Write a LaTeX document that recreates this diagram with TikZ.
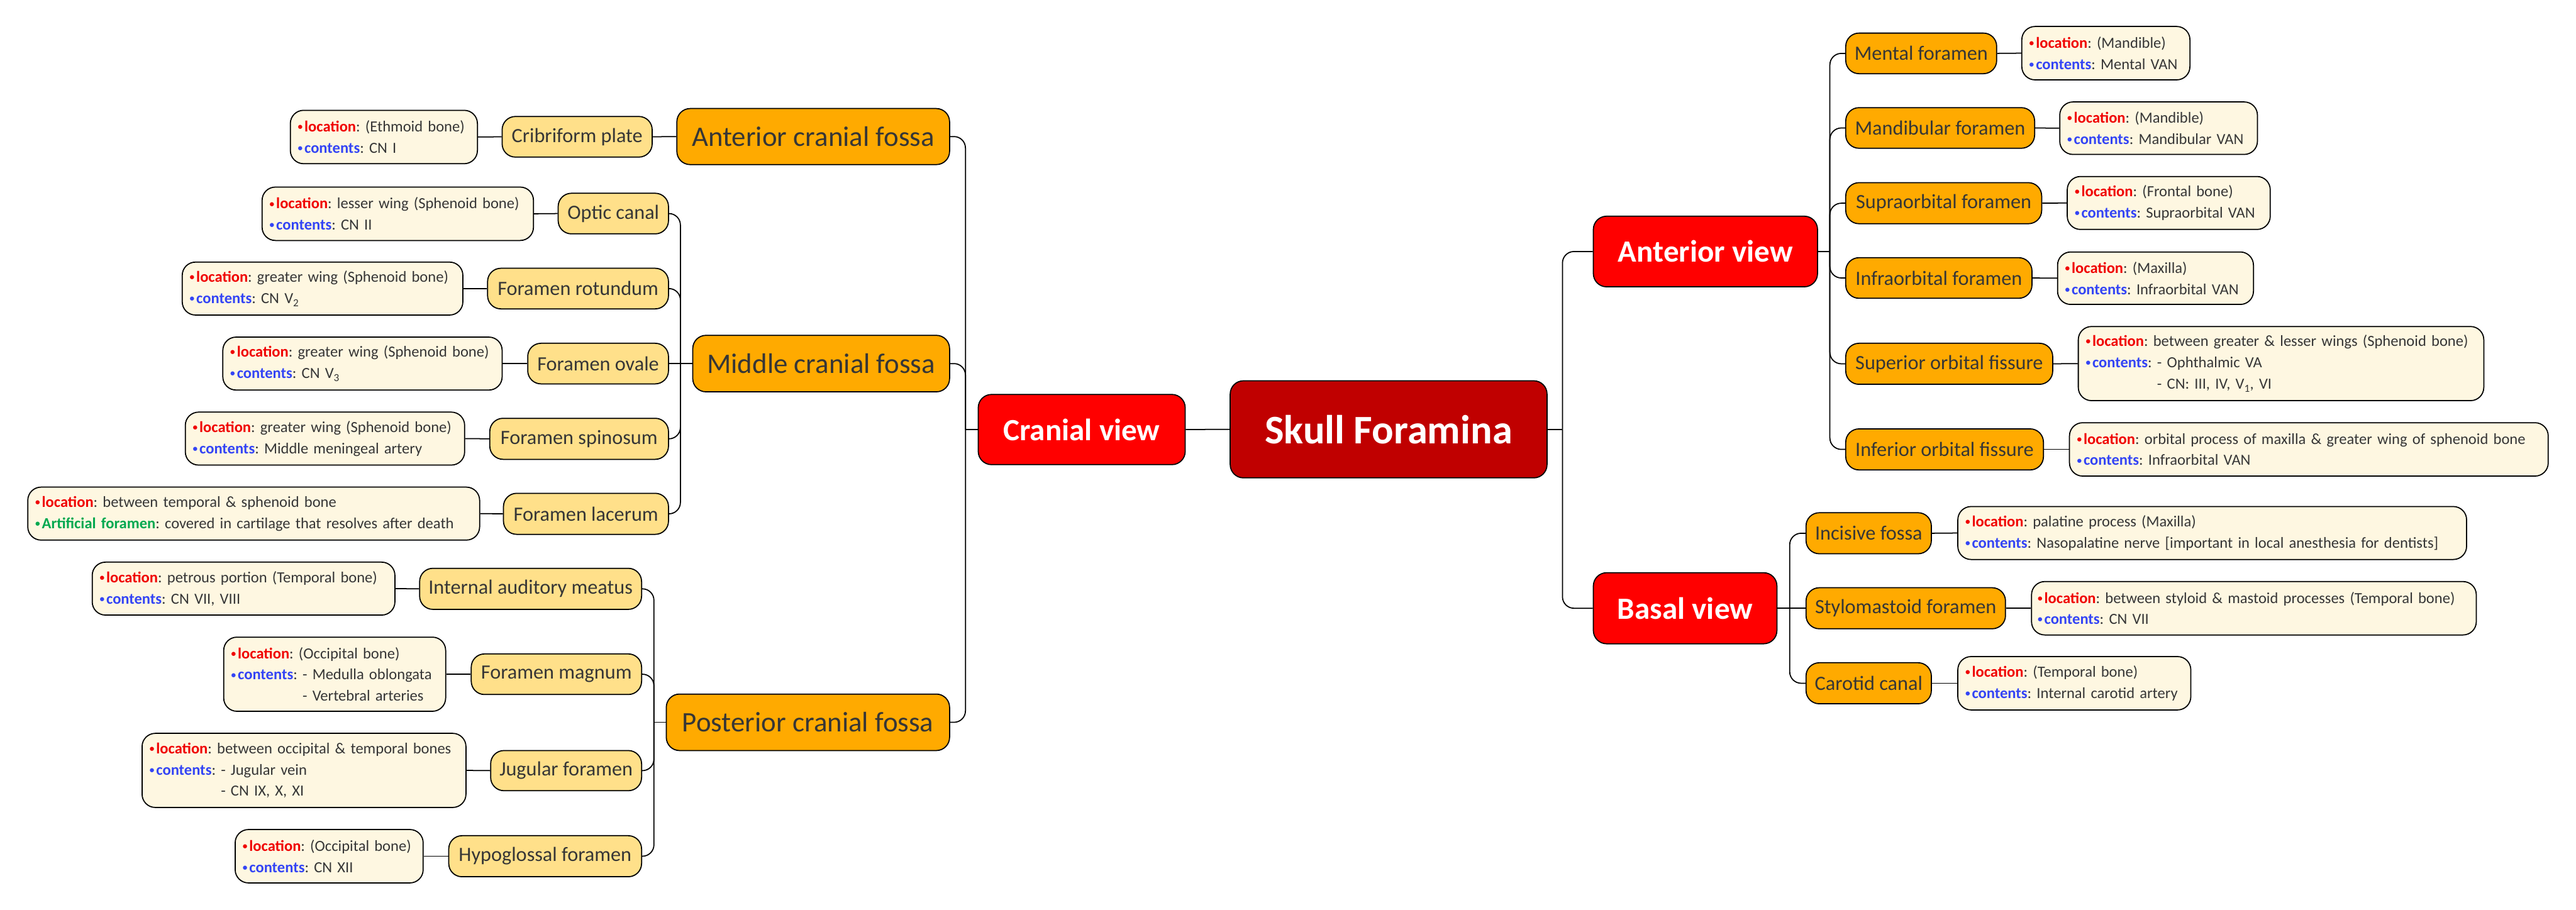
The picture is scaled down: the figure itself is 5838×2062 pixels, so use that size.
\documentclass[tikz,border=0pt]{standalone}
\usepackage{fontspec}
\setmainfont{Carlito}
\frenchspacing
\definecolor{rootred}{HTML}{C00000}
\definecolor{viewred}{HTML}{FF0000}
\definecolor{orng}{HTML}{FFAA00}
\definecolor{lightyel}{HTML}{FFE08A}
\definecolor{cream}{HTML}{FEF7E1}
\definecolor{txt}{HTML}{363636}
\definecolor{locred}{HTML}{F00000}
\definecolor{cntblue}{HTML}{3344F5}
\definecolor{artgreen}{HTML}{00A84F}
\newcommand\smbul{\raisebox{0.12em}{\scalebox{0.62}{•}}\hspace{0.12em}}
\newcommand\locl{{\color{locred}\textbf{\smbul location}}: }
\newcommand\cntl{{\color{cntblue}\textbf{\smbul contents}}: }
\newcommand\artl{{\color{artgreen}\textbf{\smbul Artificial foramen}}: }
\newcommand\cntind{\phantom{\textbf{\smbul contents}: }}
\tikzset{
  box/.style={draw=black, line width=2.5pt, rounded corners=30pt, inner sep=0pt, text=txt},
  rootbox/.style={box, fill=rootred, text=white, font=\fontsize{92}{110}\selectfont\bfseries},
  viewbox/.style={box, fill=viewred, text=white, font=\fontsize{70}{84}\selectfont\bfseries},
  fossabox/.style={box, fill=orng, font=\fontsize{64}{76}\selectfont},
  orbox/.style={box, fill=orng, font=\fontsize{46}{56}\selectfont},
  yelbox/.style={box, fill=lightyel, font=\fontsize{46}{56}\selectfont},
  infobox/.style={box, fill=cream, font=\fontsize{35}{48}\selectfont\frenchspacing, align=left},
  link/.style={draw=black, line width=2.5pt, rounded corners=26pt}
}
\begin{document}
\begin{tikzpicture}[x=1pt,y=-1pt]
\useasboundingbox[fill=white] (0,0) rectangle (5838,2062);
% centre
\node[rootbox, minimum width=718pt, minimum height=220pt] (root) at (3147,973) {Skull Foramina};
\node[viewbox, minimum width=469pt, minimum height=159pt] (cranial) at (2451.5,973.5) {Cranial view};
\node[viewbox, minimum width=508pt, minimum height=160pt] (antview) at (3865,570) {Anterior view};
\node[viewbox, minimum width=416pt, minimum height=161pt] (basal) at (3819,1378.5) {Basal view};
% fossae
\node[fossabox, minimum width=618pt, minimum height=127pt] (antfossa) at (1843,309.5) {Anterior cranial fossa};
\node[fossabox, minimum width=582pt, minimum height=128pt] (midfossa) at (1861,824) {Middle cranial fossa};
\node[fossabox, minimum width=642pt, minimum height=128pt] (postfossa) at (1831,1637) {Posterior cranial fossa};
% left leaves
\node[yelbox, minimum width=340pt, minimum height=92pt] (cribriform) at (1308,310) {Cribriform plate};
\node[infobox, minimum width=424pt, text width=390pt, minimum height=121pt] (cribinfo) at (870,310.5) {\locl (Ethmoid bone)\\\cntl CN I};
\node[yelbox, minimum width=250pt, minimum height=92pt] (optic) at (1390,484) {Optic canal};
\node[infobox, minimum width=615pt, text width=581pt, minimum height=121pt] (opticinfo) at (901.5,484.5) {\locl lesser wing (Sphenoid bone)\\\cntl CN II};
\node[yelbox, minimum width=410pt, minimum height=92pt] (rotundum) at (1310,654) {Foramen rotundum};
\node[infobox, minimum width=636pt, text width=602pt, minimum height=120pt] (rotinfo) at (731,654) {\locl greater wing (Sphenoid bone)\\\cntl CN V\textsubscript{2}};
\node[yelbox, minimum width=319pt, minimum height=92pt] (ovale) at (1355.5,824) {Foramen ovale};
\node[infobox, minimum width=633pt, text width=599pt, minimum height=120pt] (ovinfo) at (821.5,824) {\locl greater wing (Sphenoid bone)\\\cntl CN V\textsubscript{3}};
\node[yelbox, minimum width=405pt, minimum height=93pt] (spinosum) at (1312.5,994.5) {Foramen spinosum};
\node[infobox, minimum width=633pt, text width=599pt, minimum height=120pt] (spininfo) at (736.5,994) {\locl greater wing (Sphenoid bone)\\\cntl Middle meningeal artery};
\node[yelbox, minimum width=374pt, minimum height=93pt] (lacerum) at (1328,1164.5) {Foramen lacerum};
\node[infobox, minimum width=1024pt, text width=990pt, minimum height=120pt] (lacinfo) at (575,1164) {\locl between temporal \& sphenoid bone\\\artl covered in cartilage that resolves after death};
\node[yelbox, minimum width=503pt, minimum height=93pt] (iam) at (1202.5,1334.5) {Internal auditory meatus};
\node[infobox, minimum width=686pt, text width=652pt, minimum height=120pt] (iaminfo) at (552,1334) {\locl petrous portion (Temporal bone)\\\cntl CN VII, VIII};
\node[yelbox, minimum width=386pt, minimum height=92pt] (magnum) at (1261,1528) {Foramen magnum};
\node[infobox, minimum width=503pt, text width=469pt, minimum height=168pt] (maginfo) at (758.5,1528) {\locl (Occipital bone)\\\cntl - Medulla oblongata\\\cntind - Vertebral arteries};
\node[yelbox, minimum width=342pt, minimum height=91pt] (jugular) at (1283,1746.5) {Jugular foramen};
\node[infobox, minimum width=734pt, text width=700pt, minimum height=168pt] (juginfo) at (689,1746) {\locl between occipital \& temporal bones\\\cntl - Jugular vein\\\cntind - CN IX, X, XI};
\node[yelbox, minimum width=437pt, minimum height=93pt] (hypo) at (1235.5,1940.5) {Hypoglossal foramen};
\node[infobox, minimum width=426pt, text width=392pt, minimum height=121pt] (hypoinfo) at (746,1940.5) {\locl (Occipital bone)\\\cntl CN XII};
% right leaves
\node[orbox, minimum width=342pt, minimum height=92pt] (mental) at (4354,121) {Mental foramen};
\node[infobox, minimum width=381pt, text width=347pt, minimum height=121pt] (mentinfo) at (4772.5,120.5) {\locl (Mandible)\\\cntl Mental VAN};
\node[orbox, minimum width=428pt, minimum height=92pt] (mandib) at (4397,290) {Mandibular foramen};
\node[infobox, minimum width=448pt, text width=414pt, minimum height=119pt] (mandinfo) at (4892,290.5) {\locl (Mandible)\\\cntl Mandibular VAN};
\node[orbox, minimum width=444pt, minimum height=93pt] (supra) at (4405,460.5) {Supraorbital foramen};
\node[infobox, minimum width=460pt, text width=426pt, minimum height=120pt] (suprainfo) at (4915,460) {\locl (Frontal bone)\\\cntl Supraorbital VAN};
\node[orbox, minimum width=422pt, minimum height=92pt] (infra) at (4394,630) {Infraorbital foramen};
\node[infobox, minimum width=444pt, text width=410pt, minimum height=119pt] (infrainfo) at (4885,630.5) {\locl (Maxilla)\\\cntl Infraorbital VAN};
\node[orbox, minimum width=469pt, minimum height=93pt] (sof) at (4417.5,824.5) {Superior orbital fissure};
\node[infobox, minimum width=919pt, text width=885pt, minimum height=168pt] (sofinfo) at (5169.5,824) {\locl between greater \& lesser wings (Sphenoid bone)\\\cntl - Ophthalmic VA\\\cntind - CN: III, IV, V\textsubscript{1}, VI};
\node[orbox, minimum width=448pt, minimum height=93pt] (iof) at (4407,1018.5) {Inferior orbital fissure};
\node[infobox, minimum width=1085pt, text width=1051pt, minimum height=121pt] (iofinfo) at (5232.5,1018.5) {\locl orbital process of maxilla \& greater wing of sphenoid bone\\\cntl Infraorbital VAN};
\node[orbox, minimum width=284pt, minimum height=93pt] (incisive) at (4235,1208.5) {Incisive fossa};
\node[infobox, minimum width=1153pt, text width=1119pt, minimum height=120pt] (incinfo) at (5013.5,1208) {\locl palatine process (Maxilla)\\\cntl Nasopalatine nerve [important in local anesthesia for dentists]};
\node[orbox, minimum width=452pt, minimum height=93pt] (stylo) at (4319,1378.5) {Stylomastoid foramen};
\node[infobox, minimum width=1008pt, text width=980pt, minimum height=121pt] (styloinfo) at (5108,1378.5) {\locl between styloid \& mastoid processes (Temporal bone)\\\cntl CN VII};
\node[orbox, minimum width=284pt, minimum height=93pt] (carotid) at (4235,1548.5) {Carotid canal};
\node[infobox, minimum width=528pt, text width=494pt, minimum height=121pt] (carinfo) at (4701,1548.5) {\locl (Temporal bone)\\\cntl Internal carotid artery};
% junctions
\coordinate (jR) at (3541,973);
\coordinate (jC) at (2188,973.5);
\coordinate (jM) at (1542,824);
\coordinate (jP) at (1482,1637);
\coordinate (jA) at (4147,570);
\coordinate (jB) at (4056,1378.5);
% connectors
\draw[link] (root.west) -- (cranial.east);
\draw[link] (root.east) -- (jR);
\draw[link] (jR) |- (antview.west);
\draw[link] (jR) |- (basal.west);
\draw[link] (cranial.west) -- (jC);
\draw[link] (jC) |- (antfossa.east);
\draw[link] (jC) |- (midfossa.east);
\draw[link] (jC) |- (postfossa.east);
\draw[link] (antfossa.west) -- (cribriform.east);
\draw[link] (midfossa.west) -- (jM);
\draw[link] (jM) |- (optic.east);
\draw[link] (jM) |- (rotundum.east);
\draw[link] (jM) -- (ovale.east);
\draw[link] (jM) |- (spinosum.east);
\draw[link] (jM) |- (lacerum.east);
\draw[link] (postfossa.west) -- (jP);
\draw[link] (jP) |- (iam.east);
\draw[link] (jP) |- (magnum.east);
\draw[link] (jP) |- (jugular.east);
\draw[link] (jP) |- (hypo.east);
\draw[link] (antview.east) -- (jA);
\draw[link] (jA) |- (mental.west);
\draw[link] (jA) |- (mandib.west);
\draw[link] (jA) |- (supra.west);
\draw[link] (jA) |- (infra.west);
\draw[link] (jA) |- (sof.west);
\draw[link] (jA) |- (iof.west);
\draw[link] (basal.east) -- (jB);
\draw[link] (jB) |- (incisive.west);
\draw[link] (jB) -- (stylo.west);
\draw[link] (jB) |- (carotid.west);
\draw[link] (cribriform.west) -- (cribinfo.east);
\draw[link] (optic.west) -- (opticinfo.east);
\draw[link] (rotundum.west) -- (rotinfo.east);
\draw[link] (ovale.west) -- (ovinfo.east);
\draw[link] (spinosum.west) -- (spininfo.east);
\draw[link] (lacerum.west) -- (lacinfo.east);
\draw[link] (iam.west) -- (iaminfo.east);
\draw[link] (magnum.west) -- (maginfo.east);
\draw[link] (jugular.west) -- (juginfo.east);
\draw[link] (hypo.west) -- (hypoinfo.east);
\draw[link] (mental.east) -- (mentinfo.west);
\draw[link] (mandib.east) -- (mandinfo.west);
\draw[link] (supra.east) -- (suprainfo.west);
\draw[link] (infra.east) -- (infrainfo.west);
\draw[link] (sof.east) -- (sofinfo.west);
\draw[link] (iof.east) -- (iofinfo.west);
\draw[link] (incisive.east) -- (incinfo.west);
\draw[link] (stylo.east) -- (styloinfo.west);
\draw[link] (carotid.east) -- (carinfo.west);
\end{tikzpicture}
\end{document}
